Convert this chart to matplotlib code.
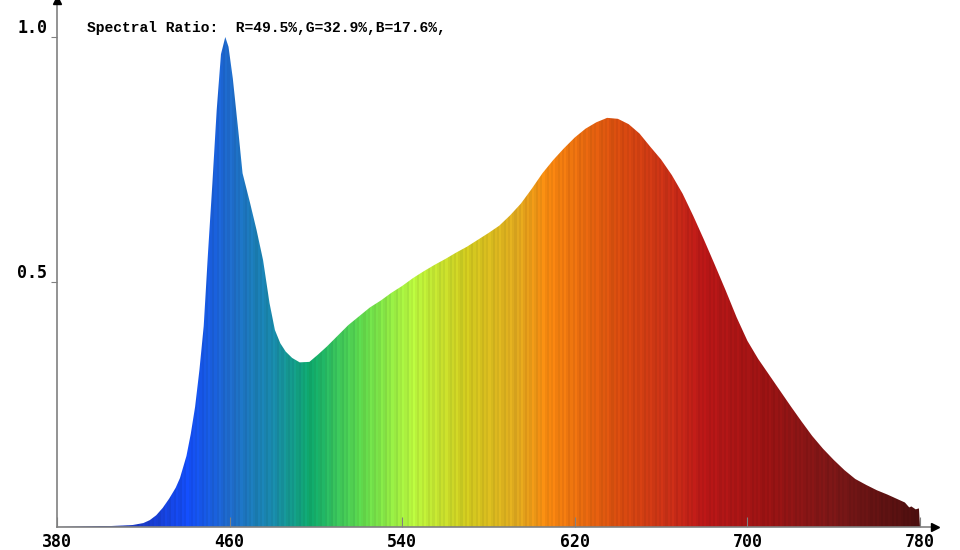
import numpy as np
import matplotlib
matplotlib.use("Agg")
import matplotlib.pyplot as plt
from matplotlib.colors import LinearSegmentedColormap, to_rgb

# spectrum (nm, relative intensity)
wavelength = [380, 390, 400, 405, 410, 415, 420, 423, 426, 429, 432, 435, 437, 440, 442,
              444, 446, 448, 450, 452, 454, 456, 458, 459.5, 461.5, 464, 466, 469.5,
              472.5, 475.5, 478.5, 481, 483.5, 486, 489, 492.5, 497, 501, 505, 510, 515,
              520, 525, 530, 535, 540, 545, 550, 555, 560, 565, 570, 575, 580, 585,
              590, 595, 600, 605, 610, 615, 620, 625, 630, 635, 640, 645, 650, 655, 660,
              665, 670, 675, 680, 685, 690, 695, 700, 705, 710, 715, 720, 725, 730,
              735, 740, 745, 750, 755, 760, 765, 770, 773, 775, 776, 778, 779.5, 780]
intensity = [0.0, 0.001, 0.002, 0.002, 0.003, 0.004, 0.008, 0.014, 0.024, 0.039, 0.058,
             0.080, 0.100, 0.145, 0.190, 0.245, 0.320, 0.410, 0.560, 0.700, 0.850, 0.965,
             1.000, 0.980, 0.915, 0.810, 0.722, 0.661, 0.606, 0.545, 0.457, 0.402, 0.375,
             0.358, 0.345, 0.336, 0.337, 0.352, 0.368, 0.390, 0.412, 0.430, 0.448, 0.462,
             0.478, 0.492, 0.508, 0.522, 0.535, 0.547, 0.560, 0.572, 0.586, 0.600, 0.615,
             0.636, 0.660, 0.690, 0.722, 0.749, 0.773, 0.795, 0.813, 0.826, 0.835, 0.833,
             0.822, 0.803, 0.776, 0.750, 0.718, 0.680, 0.634, 0.585, 0.534, 0.482, 0.428,
             0.380, 0.343, 0.311, 0.279, 0.247, 0.216, 0.186, 0.160, 0.137, 0.116, 0.098,
             0.086, 0.075, 0.066, 0.056, 0.050, 0.040, 0.042, 0.036, 0.038, 0.0]

x_ticks = [380, 460, 540, 620, 700, 780]
y_ticks = [0.5, 1.0]
y_tick_labels = ["0.5", "1.0"]
title_text = "Spectral Ratio:  R=49.5%,G=32.9%,B=17.6%,"

# colour of each wavelength
color_nm = [380, 420, 440, 460, 480, 497, 520, 545, 570, 593, 608, 640, 665, 680, 710, 740, 780]
color_hex = ["#1a2cb0", "#1a3cd0", "#1450ff", "#2070d0", "#1a90b0", "#10b070", "#60e050",
             "#c0ff40", "#d8d020", "#e8b020", "#ff8c10", "#e05010", "#d03018", "#c01818",
             "#a01414", "#801818", "#501010"]

cmap = LinearSegmentedColormap.from_list(
    "spec", [((n - 380) / 400, to_rgb(c)) for n, c in zip(color_nm, color_hex)])

fig = plt.figure(figsize=(9.6, 5.5), dpi=100)
ax = fig.add_axes([57 / 960, 23 / 550, (935 - 57) / 960, 527 / 550])

x_max = 780 + 15 / 2.1575
y_max = 527 / 490
ax.set_xlim(380, x_max)
ax.set_ylim(0, y_max)

# gradient image clipped by the spectrum outline
cols = np.linspace(0, 1, 400)
rgb = cmap(cols)[:, :3]
shade = 1 - 0.08 * ((np.arange(400) * 7) % 5) / 4  # thin vertical stripes
rgb = rgb * shade[:, None]
img = np.tile(rgb[None, :, :], (2, 1, 1))
im = ax.imshow(img, extent=[380, 780, 0, 1.0], aspect="auto", origin="lower",
               interpolation="nearest", zorder=1)
poly = ax.fill_between(wavelength, 0, intensity, facecolor="none", edgecolor="none")
im.set_clip_path(poly.get_paths()[0], transform=ax.transData)

for side in ["top", "right"]:
    ax.spines[side].set_visible(False)
for side in ["left", "bottom"]:
    ax.spines[side].set_color("#808080")
    ax.spines[side].set_linewidth(1.2)
    ax.spines[side].set_zorder(3)

# arrow heads
ax.plot(380, y_max, marker="^", color="black", markersize=6, clip_on=False, zorder=4)
ax.plot(x_max, 0, marker=">", color="black", markersize=6, clip_on=False, zorder=4)

ax.set_xticks(x_ticks)
ax.set_xticklabels([str(t) for t in x_ticks], fontfamily="DejaVu Sans Mono",
                   fontsize=12, fontweight="bold")
ax.tick_params(axis="x", direction="in", length=7, color="#808080", pad=4)

ax.set_yticks(y_ticks)
ax.set_yticklabels(y_tick_labels, fontfamily="DejaVu Sans Mono", fontsize=12,
                   fontweight="bold")
ax.tick_params(axis="y", direction="out", length=4, color="#808080", pad=3)
for lab in ax.get_yticklabels():
    lab.set_verticalalignment("bottom")

fig.text(87 / 960, 1 - 28 / 550, title_text, fontfamily="Liberation Mono",
         fontsize=10.5, fontweight="bold", va="center", ha="left")

fig.savefig("out.png", dpi=100)
